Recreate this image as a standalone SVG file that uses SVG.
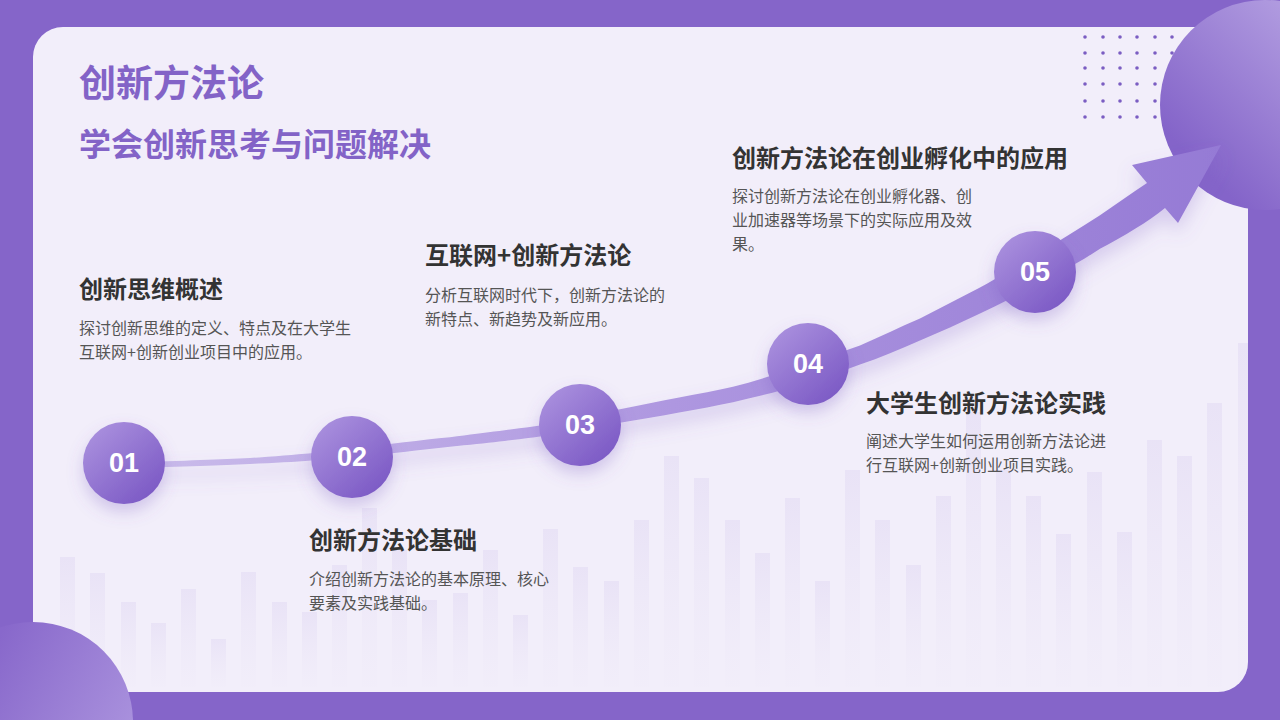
<svg xmlns="http://www.w3.org/2000/svg" width="1280" height="720" viewBox="0 0 1280 720">
  <defs>
    <style>
      .title { font-family: "Noto Sans CJK SC", "Noto Sans", sans-serif; font-weight: 700; fill: #8363C7; }
      .head { font-family: "Noto Sans CJK SC", "Noto Sans", sans-serif; font-weight: 700; font-size: 24px; fill: #333333; }
      .desc { font-family: "Noto Sans CJK SC", "Noto Sans", sans-serif; font-size: 16px; fill: #555555; }
      .num { font-family: "Liberation Sans", Arial, sans-serif; font-weight: 700; font-size: 27px; fill: #ffffff; text-anchor: middle; }
      .bar { fill: url(#barGrad); }
      .dot { fill: #7B5DC2; }
    </style>
    <linearGradient id="barGrad" x1="0" y1="0" x2="0" y2="1">
      <stop offset="0" stop-color="#E6DFF5" stop-opacity="0.75"/>
      <stop offset="1" stop-color="#ECE7F7" stop-opacity="0.1"/>
    </linearGradient>
    <linearGradient id="circGrad" x1="0.15" y1="0.1" x2="0.85" y2="0.9">
      <stop offset="0" stop-color="#A88EDD"/>
      <stop offset="1" stop-color="#7C5AC5"/>
    </linearGradient>
    <linearGradient id="bigGrad" x1="0.9" y1="0.1" x2="0.2" y2="0.8">
      <stop offset="0" stop-color="#B9A6E4"/>
      <stop offset="1" stop-color="#8464C9"/>
    </linearGradient>
    <linearGradient id="blGrad" x1="0.2" y1="0.3" x2="0.9" y2="0.7">
      <stop offset="0" stop-color="#8868CB"/>
      <stop offset="1" stop-color="#A991DD"/>
    </linearGradient>
    <linearGradient id="shaftGrad" x1="123" y1="0" x2="1222" y2="0" gradientUnits="userSpaceOnUse">
      <stop offset="0" stop-color="#CBBDEB"/>
      <stop offset="0.5" stop-color="#AE97E0"/>
      <stop offset="1" stop-color="#957AD5"/>
    </linearGradient>
    <filter id="shadow" x="-30%" y="-30%" width="160%" height="180%">
      <feDropShadow dx="0" dy="8" stdDeviation="8" flood-color="#7456C0" flood-opacity="0.28"/>
    </filter>
    <filter id="arrowShadow" x="-10%" y="-30%" width="120%" height="160%">
      <feDropShadow dx="0" dy="10" stdDeviation="9" flood-color="#8063C6" flood-opacity="0.25"/>
    </filter>
    <clipPath id="panelClip">
      <rect x="33" y="27" width="1215" height="665" rx="30"/>
    </clipPath>
  </defs>

  <!-- background -->
  <rect x="0" y="0" width="1280" height="720" fill="#8565C9"/>
  <rect x="33" y="27" width="1215" height="665" rx="30" fill="#F2EEFA"/>

  <!-- background bars -->
  <g id="bars" clip-path="url(#panelClip)">
    <rect class="bar" x="60" y="557" width="15" height="130"/>
    <rect class="bar" x="90" y="573" width="15" height="114"/>
    <rect class="bar" x="121" y="602" width="15" height="85"/>
    <rect class="bar" x="151" y="623" width="15" height="64"/>
    <rect class="bar" x="181" y="589" width="15" height="98"/>
    <rect class="bar" x="211" y="639" width="15" height="48"/>
    <rect class="bar" x="241" y="572" width="15" height="115"/>
    <rect class="bar" x="272" y="602" width="15" height="85"/>
    <rect class="bar" x="302" y="612" width="15" height="75"/>
    <rect class="bar" x="332" y="565" width="15" height="122"/>
    <rect class="bar" x="362" y="508" width="15" height="179"/>
    <rect class="bar" x="392" y="550" width="15" height="137"/>
    <rect class="bar" x="422" y="600" width="15" height="87"/>
    <rect class="bar" x="453" y="593" width="15" height="94"/>
    <rect class="bar" x="483" y="550" width="15" height="137"/>
    <rect class="bar" x="513" y="615" width="15" height="72"/>
    <rect class="bar" x="543" y="529" width="15" height="158"/>
    <rect class="bar" x="573" y="567" width="15" height="120"/>
    <rect class="bar" x="604" y="581" width="15" height="106"/>
    <rect class="bar" x="634" y="520" width="15" height="167"/>
    <rect class="bar" x="664" y="456" width="15" height="231"/>
    <rect class="bar" x="694" y="478" width="15" height="209"/>
    <rect class="bar" x="725" y="520" width="15" height="167"/>
    <rect class="bar" x="755" y="553" width="15" height="134"/>
    <rect class="bar" x="785" y="498" width="15" height="189"/>
    <rect class="bar" x="815" y="581" width="15" height="106"/>
    <rect class="bar" x="845" y="470" width="15" height="217"/>
    <rect class="bar" x="875" y="520" width="15" height="167"/>
    <rect class="bar" x="906" y="565" width="15" height="122"/>
    <rect class="bar" x="936" y="496" width="15" height="191"/>
    <rect class="bar" x="966" y="412" width="15" height="275"/>
    <rect class="bar" x="996" y="470" width="15" height="217"/>
    <rect class="bar" x="1026" y="496" width="15" height="191"/>
    <rect class="bar" x="1056" y="534" width="15" height="153"/>
    <rect class="bar" x="1087" y="472" width="15" height="215"/>
    <rect class="bar" x="1117" y="532" width="15" height="155"/>
    <rect class="bar" x="1147" y="440" width="15" height="247"/>
    <rect class="bar" x="1177" y="456" width="15" height="231"/>
    <rect class="bar" x="1207" y="403" width="15" height="284"/>
    <rect class="bar" x="1238" y="343" width="15" height="344"/>
  </g>

  <!-- dot grid -->
  <g id="dots">
    <circle class="dot" cx="1085" cy="37" r="1.8"/><circle class="dot" cx="1103" cy="37" r="1.8"/><circle class="dot" cx="1120" cy="37" r="1.8"/><circle class="dot" cx="1137" cy="37" r="1.8"/><circle class="dot" cx="1155" cy="37" r="1.8"/><circle class="dot" cx="1172" cy="37" r="1.8"/>
    <circle class="dot" cx="1085" cy="53" r="1.8"/><circle class="dot" cx="1103" cy="53" r="1.8"/><circle class="dot" cx="1120" cy="53" r="1.8"/><circle class="dot" cx="1137" cy="53" r="1.8"/><circle class="dot" cx="1155" cy="53" r="1.8"/><circle class="dot" cx="1172" cy="53" r="1.8"/>
    <circle class="dot" cx="1085" cy="68" r="1.8"/><circle class="dot" cx="1103" cy="68" r="1.8"/><circle class="dot" cx="1120" cy="68" r="1.8"/><circle class="dot" cx="1137" cy="68" r="1.8"/><circle class="dot" cx="1155" cy="68" r="1.8"/><circle class="dot" cx="1172" cy="68" r="1.8"/>
    <circle class="dot" cx="1085" cy="84" r="1.8"/><circle class="dot" cx="1103" cy="84" r="1.8"/><circle class="dot" cx="1120" cy="84" r="1.8"/><circle class="dot" cx="1137" cy="84" r="1.8"/><circle class="dot" cx="1155" cy="84" r="1.8"/><circle class="dot" cx="1172" cy="84" r="1.8"/>
    <circle class="dot" cx="1085" cy="101" r="1.8"/><circle class="dot" cx="1103" cy="101" r="1.8"/><circle class="dot" cx="1120" cy="101" r="1.8"/><circle class="dot" cx="1137" cy="101" r="1.8"/><circle class="dot" cx="1155" cy="101" r="1.8"/><circle class="dot" cx="1172" cy="101" r="1.8"/>
    <circle class="dot" cx="1085" cy="117" r="1.8"/><circle class="dot" cx="1103" cy="117" r="1.8"/><circle class="dot" cx="1120" cy="117" r="1.8"/><circle class="dot" cx="1137" cy="117" r="1.8"/><circle class="dot" cx="1155" cy="117" r="1.8"/><circle class="dot" cx="1172" cy="117" r="1.8"/>
  </g>

  <!-- decorative circles -->
  <circle id="deco-tr" cx="1265" cy="105" r="105" fill="url(#bigGrad)"/>
  <circle id="deco-bl" cx="33" cy="722" r="100" fill="url(#blGrad)"/>

  <!-- titles -->
  <g id="title">
    <text class="title" x="79" y="97" font-size="37">创新方法论</text>
    <text class="title" x="79" y="156" font-size="32">学会创新思考与问题解决</text>
  </g>

  <!-- connector: growth arrow -->
  <g id="connectors" filter="url(#arrowShadow)">
    <path fill="url(#shaftGrad)" d="M123,462.5 C190,461 220,459 250,458 C300,455 330,451 352,449 C390,444 420,440 450,437.2 C490,432 515,429 540,425.4 C570,420 595,414 620,409.2 C660,401 700,394 733,386.8 C760,380 785,371 808,364.3 C825,358 843,351 860,345.4 C880,337 900,327 920,318.5 C940,308 960,298 980,287.5 C1000,277 1018,265 1035,255.6 C1058,242 1080,228 1100,215.3 C1115,205 1132,193 1147,183 L1132,165 L1221,145 L1178,223 L1165,208 C1148,222 1124,236 1100,248.7 C1080,262 1058,274 1035,284.4 C1018,295 1000,304 980,313.5 C960,323 940,332 920,340.5 C900,349 880,358 860,364.6 C843,371 825,377 808,381.7 C785,390 760,396 733,402.2 C700,409 660,416 620,422.8 C595,428 570,433 540,436.6 C515,440 490,443 450,446.8 C420,450 390,454 352,457 C330,459 300,462 250,464 C220,465 190,467 123,467.5 Z"/>
  </g>

  <!-- nodes -->
  <g id="node-01">
    <circle cx="124" cy="463" r="41" fill="url(#circGrad)" filter="url(#shadow)"/>
    <text class="num" x="124" y="472">01</text>
    <text class="head" x="79" y="298">创新思维概述</text>
    <text class="desc" x="79" y="334">探讨创新思维的定义、特点及在大学生</text>
    <text class="desc" x="79" y="358">互联网+创新创业项目中的应用。</text>
  </g>
  <g id="node-02">
    <circle cx="352" cy="457" r="41" fill="url(#circGrad)" filter="url(#shadow)"/>
    <text class="num" x="352" y="466">02</text>
    <text class="head" x="309" y="549">创新方法论基础</text>
    <text class="desc" x="309" y="585">介绍创新方法论的基本原理、核心</text>
    <text class="desc" x="309" y="609">要素及实践基础。</text>
  </g>
  <g id="node-03">
    <circle cx="580" cy="425" r="41" fill="url(#circGrad)" filter="url(#shadow)"/>
    <text class="num" x="580" y="434">03</text>
    <text class="head" x="425" y="264">互联网+创新方法论</text>
    <text class="desc" x="425" y="301">分析互联网时代下，创新方法论的</text>
    <text class="desc" x="425" y="325">新特点、新趋势及新应用。</text>
  </g>
  <g id="node-04">
    <circle cx="808" cy="364" r="41" fill="url(#circGrad)" filter="url(#shadow)"/>
    <text class="num" x="808" y="373">04</text>
    <text class="head" x="866" y="412">大学生创新方法论实践</text>
    <text class="desc" x="866" y="447">阐述大学生如何运用创新方法论进</text>
    <text class="desc" x="866" y="471">行互联网+创新创业项目实践。</text>
  </g>
  <g id="node-05">
    <circle cx="1035" cy="272" r="41" fill="url(#circGrad)" filter="url(#shadow)"/>
    <text class="num" x="1035" y="281">05</text>
    <text class="head" x="732" y="167">创新方法论在创业孵化中的应用</text>
    <text class="desc" x="732" y="202">探讨创新方法论在创业孵化器、创</text>
    <text class="desc" x="732" y="226">业加速器等场景下的实际应用及效</text>
    <text class="desc" x="732" y="250">果。</text>
  </g>
</svg>
